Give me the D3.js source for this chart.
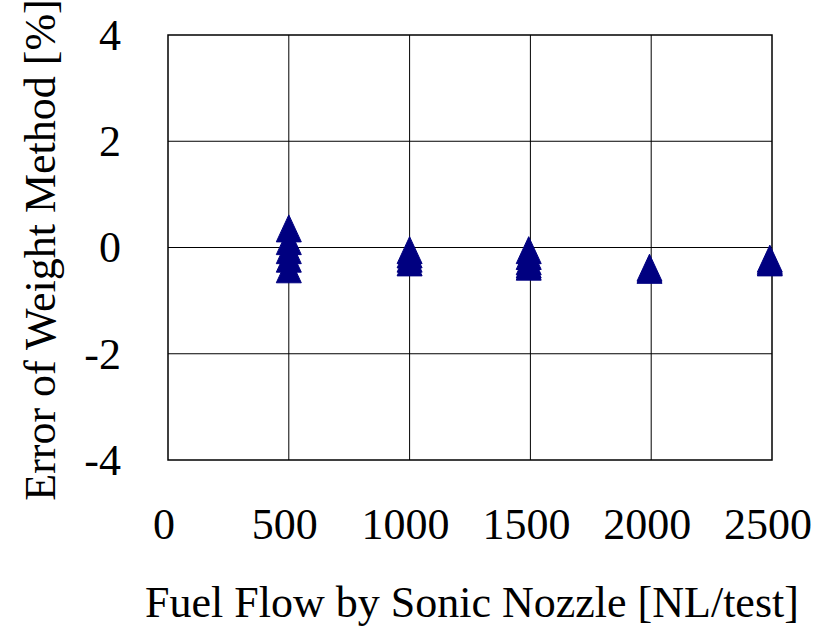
<!DOCTYPE html>
<html><head><meta charset="utf-8">
<script src="https://cdn.jsdelivr.net/npm/d3@7"></script>
<style>body{margin:0;background:#fff}text{font-family:"Liberation Serif","Times New Roman",serif;fill:#000}</style>
</head><body><svg id="c" width="826" height="627"></svg>
<script>
const flows = [500, 1000, 1500, 2000, 2500];
const xPos = [500, 1000, 1493, 1993, 2491];
const errors = [
  [0.36, 0.12, -0.05, -0.21, -0.41],
  [-0.05, -0.13, -0.21, -0.28],
  [-0.05, -0.16, -0.26, -0.32, -0.36],
  [-0.38, -0.42],
  [-0.21, -0.25, -0.28]
];
const xTicks = [0, 500, 1000, 1500, 2000, 2500];
const yTicks = [-4, -2, 0, 2, 4];
const xTitle = "Fuel Flow by Sonic Nozzle [NL/test]";
const yTitle = "Error of Weight Method [%]";

const svg = d3.select("#c");
const L = 168, R = 772, T = 35, B = 460;
const x = d3.scaleLinear().domain([0, 2500]).range([L, R]);
const y = d3.scaleLinear().domain([-4, 4]).range([B, T]);

const g = svg.append("g");
g.selectAll("line.vg").data(xTicks.slice(1, -1)).enter().append("line")
  .attr("x1", d => x(d)).attr("x2", d => x(d)).attr("y1", T).attr("y2", B)
  .attr("stroke", "#000").attr("stroke-width", 1);
g.selectAll("line.hg").data(yTicks.slice(1, -1)).enter().append("line")
  .attr("x1", L).attr("x2", R).attr("y1", d => y(d)).attr("y2", d => y(d))
  .attr("stroke", "#000").attr("stroke-width", 1);
g.append("rect").attr("x", L).attr("y", T).attr("width", R - L).attr("height", B - T)
  .attr("fill", "none").attr("stroke", "#000").attr("stroke-width", 1.5);

g.selectAll("text.xt").data(xTicks).enter().append("text")
  .attr("x", d => x(d) - 4).attr("y", 539).attr("text-anchor", "middle")
  .attr("font-size", 44).text(d => d);
g.selectAll("text.yt").data(yTicks).enter().append("text")
  .attr("x", 121).attr("y", d => y(d)).attr("dy", "0.34em").attr("text-anchor", "end")
  .attr("font-size", 44).text(d => d);

svg.append("text").attr("x", 472).attr("y", 617).attr("text-anchor", "middle")
  .attr("font-size", 44).text(xTitle);
svg.append("text").attr("transform", "translate(55,250) rotate(-90)").attr("text-anchor", "middle")
  .attr("font-size", 44).text(yTitle);

const pts = [];
xPos.forEach((xv, i) => errors[i].forEach(e => pts.push({x: xv, y: e})));
const tri = "M0,-13.5 L12.5,13.5 L-12.5,13.5 Z";
svg.append("g").selectAll("path").data(pts).enter().append("path")
  .attr("d", tri).attr("transform", d => `translate(${x(d.x)},${y(d.y)})`)
  .attr("fill", "#000080").attr("stroke", "#000080").attr("stroke-width", 1).attr("stroke-linejoin", "round");
</script></body></html>
